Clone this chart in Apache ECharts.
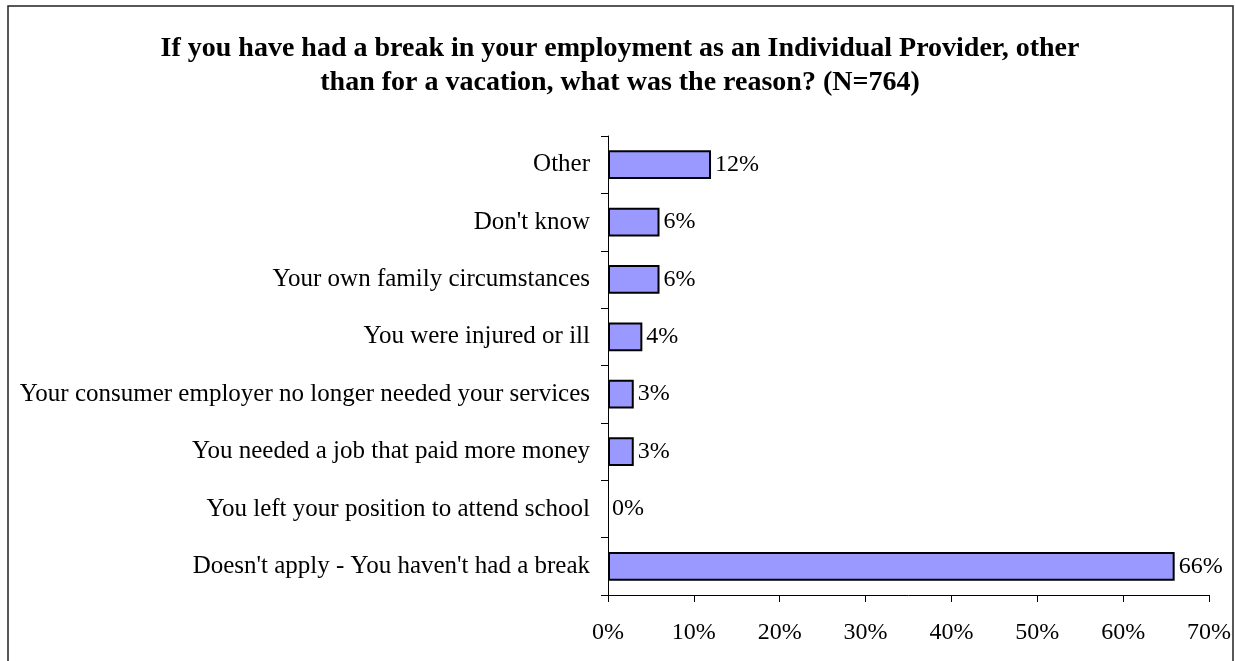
<!DOCTYPE html>
<html>
<head>
<meta charset="utf-8">
<script src="https://cdn.jsdelivr.net/npm/echarts@6/dist/echarts.min.js"></script>
<style>
  html, body { margin: 0; padding: 0; background: #fff; }
  #chart { width: 1235px; height: 661px; }
</style>
</head>
<body>
<div id="chart"></div>
<script>
// Reasons for a break in employment (percent of respondents)
const categories = [
  "Other",
  "Don't know",
  "Your own family circumstances",
  "You were injured or ill",
  "Your consumer employer no longer needed your services",
  "You needed a job that paid more money",
  "You left your position to attend school",
  "Doesn't apply - You haven't had a break"
];
const percents = [12, 6, 6, 4, 3, 3, 0, 66];
const xTicks = { min: 0, max: 70, step: 10 };
const titleText = "If you have had a break in your employment as an Individual Provider, other\nthan for a vacation, what was the reason? (N=764)";

const serif = '"Liberation Serif", "Times New Roman", serif';
const chart = echarts.init(document.getElementById('chart'), null, { renderer: 'canvas' });

// zero-valued bars get no outline so nothing is drawn for them
const barData = percents.map(v => v === 0 ? { value: v, itemStyle: { borderWidth: 0 } } : v);

chart.setOption({
  backgroundColor: '#fff',
  animation: false,
  graphic: [{
    type: 'rect',
    shape: { x: 8, y: 6, width: 1225, height: 700 },
    style: { fill: 'none', stroke: '#222', lineWidth: 1.5 },
    silent: true
  }],
  title: {
    text: titleText,
    left: 615,
    top: 27,
    textAlign: 'center',
    textStyle: {
      fontFamily: serif,
      fontWeight: 'bold',
      fontSize: 28,
      lineHeight: 34,
      color: '#000'
    }
  },
  grid: { left: 608, right: 26, top: 136, bottom: 66, containLabel: false },
  xAxis: {
    type: 'value',
    min: xTicks.min,
    max: xTicks.max,
    interval: xTicks.step,
    splitLine: { show: false },
    axisLine: { show: true, lineStyle: { color: '#000', width: 1 } },
    axisTick: { show: true, length: 7, lineStyle: { color: '#000' } },
    axisLabel: {
      formatter: '{value}%',
      margin: 26,
      fontFamily: serif,
      fontSize: 24,
      color: '#000'
    }
  },
  yAxis: {
    type: 'category',
    data: categories,
    inverse: true,
    axisLine: { show: true, lineStyle: { color: '#000', width: 1 } },
    axisTick: { show: true, length: 7, alignWithLabel: false, lineStyle: { color: '#000' } },
    axisLabel: {
      margin: 18,
      fontFamily: serif,
      fontSize: 25,
      color: '#000'
    }
  },
  series: [{
    type: 'bar',
    data: barData,
    barWidth: '50%',
    itemStyle: { color: '#9999ff', borderColor: '#000', borderWidth: 2 },
    label: {
      show: true,
      position: 'right',
      distance: 4,
      formatter: '{c}%',
      fontFamily: serif,
      fontSize: 24,
      color: '#000'
    }
  }]
});
</script>
</body>
</html>
